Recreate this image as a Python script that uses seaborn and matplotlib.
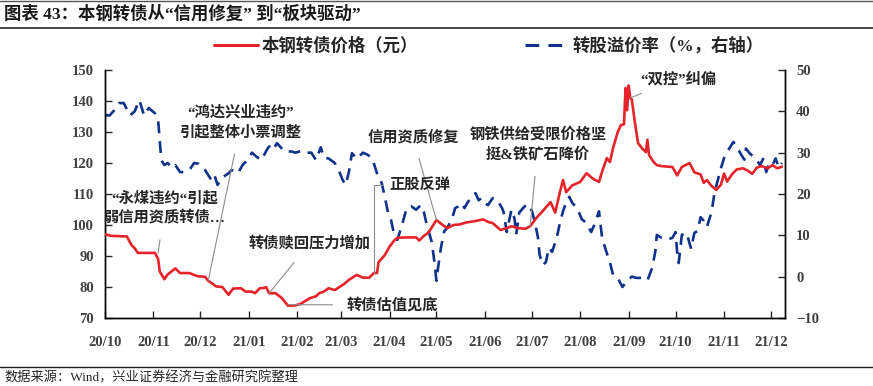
import pandas as pd
import matplotlib.pyplot as plt
import matplotlib.dates as mdates
from matplotlib.lines import Line2D
import seaborn as sns

# Data
price_dates = [
    "2020-10-01", "2020-10-05", "2020-10-15", "2020-10-18", "2020-10-20", "2020-10-22",
    "2020-11-02", "2020-11-04", "2020-11-05", "2020-11-08", "2020-11-10", "2020-11-15",
    "2020-11-18", "2020-11-24", "2020-11-29", "2020-12-04", "2020-12-06", "2020-12-09",
    "2020-12-11", "2020-12-15", "2020-12-19", "2020-12-22", "2020-12-27", "2020-12-30",
    "2021-01-03", "2021-01-05", "2021-01-08", "2021-01-11", "2021-01-12", "2021-01-14",
    "2021-01-18", "2021-01-22", "2021-01-26", "2021-01-30", "2021-02-03", "2021-02-09",
    "2021-02-13", "2021-02-15", "2021-02-18", "2021-02-21", "2021-02-25", "2021-02-28",
    "2021-03-03", "2021-03-06", "2021-03-11", "2021-03-15", "2021-03-19", "2021-03-22",
    "2021-03-24", "2021-03-25", "2021-03-29", "2021-04-01", "2021-04-04", "2021-04-06",
    "2021-04-14", "2021-04-18", "2021-04-20", "2021-04-23", "2021-04-26", "2021-05-01",
    "2021-05-05", "2021-05-08", "2021-05-12", "2021-05-16", "2021-05-20", "2021-05-25",
    "2021-05-31", "2021-06-03", "2021-06-06", "2021-06-11", "2021-06-15", "2021-06-18",
    "2021-06-22", "2021-06-27", "2021-06-30", "2021-07-04", "2021-07-08", "2021-07-13",
    "2021-07-16", "2021-07-19", "2021-07-21", "2021-07-23", "2021-07-27", "2021-08-01",
    "2021-08-05", "2021-08-09", "2021-08-13", "2021-08-15", "2021-08-18", "2021-08-20",
    "2021-08-22", "2021-08-25", "2021-08-27", "2021-08-29", "2021-08-30", "2021-08-31",
    "2021-09-01", "2021-09-02", "2021-09-03", "2021-09-05", "2021-09-07", "2021-09-10",
    "2021-09-12", "2021-09-13", "2021-09-14", "2021-09-17", "2021-09-19", "2021-09-22",
    "2021-09-29", "2021-10-02", "2021-10-05", "2021-10-10", "2021-10-13", "2021-10-17",
    "2021-10-19", "2021-10-21", "2021-10-24", "2021-10-27", "2021-10-30", "2021-11-01",
    "2021-11-03", "2021-11-06", "2021-11-09", "2021-11-13", "2021-11-16", "2021-11-19",
    "2021-11-22", "2021-11-25", "2021-11-29", "2021-12-02", "2021-12-05", "2021-12-08",
]
price_values = [
    97, 96.5, 96.3, 93.5, 92.5, 91,
    91, 89, 85, 82.5, 84, 86,
    84.5, 84.5, 83.5, 83.3, 82, 81,
    80.2, 80, 77.5, 79.5, 79.6, 78.5,
    78.5, 78, 79.6, 79.7, 80, 78,
    78, 76.5, 74, 74, 74.5, 76.4,
    77, 78, 78.5, 79.6, 79, 80,
    81, 82.3, 83.9, 83, 83, 84.5,
    84.5, 88, 90.3, 93, 95, 95.9,
    96, 96, 95, 96.5, 97.6, 101.6,
    100, 99, 100, 100.2, 100.8, 101.2,
    101.8, 101, 100.6, 98.4, 99, 99.6,
    99, 98.8, 99.6, 102.3, 104.5, 107.4,
    104, 110.6, 114.5, 110.6, 112.8, 113.9,
    116.7, 115, 113.9, 117.2, 121.6, 120.3,
    124.8, 130, 132.2, 132.5, 144.2, 137,
    145, 141, 140.5, 133, 126.4, 124.5,
    123.5, 127.5, 122.6, 120.3, 119.3, 119,
    118.7, 116, 118.7, 120, 117, 116.3,
    113.6, 114.5, 112.6, 111.3, 113, 116.6,
    114, 116.3, 117.9, 118.3, 117.6, 116.5,
    118.5, 119, 118.3, 119.3, 118.3, 118.8,
]

premium_dates = [
    "2020-10-01", "2020-10-04", "2020-10-07", "2020-10-10", "2020-10-13", "2020-10-17",
    "2020-10-20", "2020-10-23", "2020-10-26", "2020-10-29", "2020-11-02", "2020-11-04",
    "2020-11-05", "2020-11-06", "2020-11-08", "2020-11-10", "2020-11-13", "2020-11-15",
    "2020-11-18", "2020-11-21", "2020-11-24", "2020-11-27", "2020-11-30", "2020-12-04",
    "2020-12-06", "2020-12-08", "2020-12-10", "2020-12-12", "2020-12-15", "2020-12-19",
    "2020-12-21", "2020-12-25", "2020-12-28", "2020-12-31", "2021-01-03", "2021-01-06",
    "2021-01-09", "2021-01-13", "2021-01-15", "2021-01-17", "2021-01-19", "2021-01-24",
    "2021-01-28", "2021-01-31", "2021-02-04", "2021-02-07", "2021-02-10", "2021-02-13",
    "2021-02-16", "2021-02-18", "2021-02-21", "2021-02-25", "2021-02-28", "2021-03-02",
    "2021-03-04", "2021-03-06", "2021-03-08", "2021-03-11", "2021-03-15", "2021-03-18",
    "2021-03-21", "2021-03-23", "2021-03-24", "2021-03-27", "2021-03-29", "2021-03-31",
    "2021-04-02", "2021-04-04", "2021-04-06", "2021-04-09", "2021-04-12", "2021-04-15",
    "2021-04-18", "2021-04-21", "2021-04-23", "2021-04-25", "2021-04-28", "2021-04-30",
    "2021-05-01", "2021-05-02", "2021-05-04", "2021-05-06", "2021-05-08", "2021-05-11",
    "2021-05-13", "2021-05-15", "2021-05-17", "2021-05-19", "2021-05-21", "2021-05-24",
    "2021-05-26", "2021-05-28", "2021-05-30", "2021-06-01", "2021-06-03", "2021-06-06",
    "2021-06-09", "2021-06-12", "2021-06-13", "2021-06-15", "2021-06-18", "2021-06-20",
    "2021-06-21", "2021-06-23", "2021-06-25", "2021-06-28", "2021-07-01", "2021-07-03",
    "2021-07-05", "2021-07-06", "2021-07-08", "2021-07-10", "2021-07-12", "2021-07-14",
    "2021-07-17", "2021-07-19", "2021-07-21", "2021-07-23", "2021-07-25", "2021-07-27",
    "2021-07-30", "2021-08-02", "2021-08-05", "2021-08-08", "2021-08-10", "2021-08-13",
    "2021-08-15", "2021-08-18", "2021-08-20", "2021-08-22", "2021-08-25", "2021-08-28",
    "2021-08-31", "2021-09-03", "2021-09-06", "2021-09-09", "2021-09-13", "2021-09-16",
    "2021-09-18", "2021-09-19", "2021-09-22", "2021-09-26", "2021-09-29", "2021-10-01",
    "2021-10-02", "2021-10-03", "2021-10-05", "2021-10-08", "2021-10-11", "2021-10-13",
    "2021-10-15", "2021-10-17", "2021-10-19", "2021-10-21", "2021-10-24", "2021-10-26",
    "2021-10-28", "2021-10-30", "2021-11-01", "2021-11-03", "2021-11-05", "2021-11-07",
    "2021-11-09", "2021-11-12", "2021-11-14", "2021-11-15", "2021-11-17", "2021-11-19",
    "2021-11-22", "2021-11-24", "2021-11-26", "2021-11-28", "2021-11-30", "2021-12-02",
    "2021-12-04", "2021-12-06", "2021-12-08",
]
premium_values = [
    39.1, 39, 40.3, 42, 42, 39,
    40, 42.7, 39, 40.8, 39.5, 37.9,
    33, 28.2, 27, 27.5, 26.3, 27,
    25.3, 25.3, 25.8, 27.5, 27.3, 25.8,
    24.6, 23.4, 24.6, 22.2, 24, 25,
    25.8, 25, 27, 28.2, 30, 29,
    28.2, 31, 31.9, 31, 32.3, 30.2,
    30.3, 30, 30.5, 30, 30, 28.2,
    31.3, 28.8, 28.6, 27.5, 25.3, 23.4,
    22.2, 25.3, 29.9, 28.5, 30, 29.5,
    28.6, 26.2, 25, 22.7, 19.3, 15.6,
    13.7, 10.1, 8.9, 12.5, 16.6, 17,
    16.2, 17.3, 15.6, 12.3, 8.4, 2.8,
    -1, 2, 7.2, 11, 11.8, 14,
    16.6, 17, 17.8, 16.6, 18, 19.3,
    20.2, 18.5, 19, 17.8, 17.3, 19,
    18.5, 16.6, 15.6, 10.8, 16.2, 14,
    10.1, 15.5, 16.4, 17.6, 16, 13.2,
    9.4, 5.3, 2.8, 3.5, 7, 6,
    9.4, 13, 15.8, 18, 19.3, 17.8,
    16.6, 13.9, 13, 10.8, 12.5, 15.8,
    9.4, 5.7, 3.5, 0.4, -0.3, -2.5,
    -1, 0, -0.3, -0.3, -0.9, 2.1,
    6, 10.1, 9.4, 9, 9.4, 10.8,
    6, 3.3, 10.1, 10.6, 6.7, 10.6,
    11, 14.4, 13.5, 12, 15.6, 20.5,
    23.4, 26.2, 28.7, 30.2, 31.4, 32.6,
    31.5, 29.5, 28.3, 31, 30, 29.3,
    28.2, 27, 28.5, 25.3, 27.5, 27,
    28.6, 26.4, 27.5,
]

month_ticks = pd.date_range("2020-10-01", "2021-12-01", freq="MS")

# annotations: text, text position (date, price), target (date, price)
notes = [
    ("\u201c永煤违约\u201c引起\n弱信用资质转债…", ("2020-11-08", 105.5), ("2020-11-04", 91)),
    ("\u201c鸿达兴业违约\u201d\n引起整体小票调整", ("2020-12-27", 133), ("2020-12-06", 82)),
    ("转债赎回压力增加", ("2021-02-09", 94.2), ("2021-01-14", 78)),
    ("转债估值见底", ("2021-04-03", 74.2), ("2021-01-26", 74.3)),
    ("信用资质修复", ("2021-04-16", 128.4), ("2021-05-01", 101.6)),
    ("钢铁供给受限价格坚\n挺&铁矿石降价", ("2021-07-05", 126), ("2021-06-30", 99.6)),
    ("\u201c双控\u201d纠偏", ("2021-10-03", 147.2), ("2021-09-02", 141)),
]

red = "#E5232A"
blue = "#10318C"

sns.set_style("white")
plt.rcParams["font.family"] = ["Liberation Serif", "Noto Sans CJK SC"]

fig = plt.figure(figsize=(8.73, 3.86), dpi=100)
ax = fig.add_axes([105 / 873, 1 - 318 / 386, 680 / 873, 248 / 386])
ax2 = ax.twinx()

price_df = pd.DataFrame({"date": pd.to_datetime(price_dates), "value": price_values})
prem_df = pd.DataFrame({"date": pd.to_datetime(premium_dates), "value": premium_values})

sns.lineplot(data=price_df, x="date", y="value", ax=ax, color=red, linewidth=1.9, zorder=3)
sns.lineplot(data=prem_df, x="date", y="value", ax=ax2, color=blue, linewidth=1.9)
ax2.lines[0].set_dashes((4.5, 3))
ax.set_zorder(ax2.get_zorder() + 1)
ax.patch.set_visible(False)

ax.set_xlim(pd.Timestamp("2020-10-01"), pd.Timestamp("2021-12-10"))
ax.set_ylim(70, 150)
ax2.set_ylim(-10, 50)
ax.set_yticks(range(70, 151, 10))
ax2.set_yticks(range(-10, 51, 10))
ax.set_xticks(month_ticks)
ax.xaxis.set_major_formatter(mdates.DateFormatter("%y/%m"))
ax.set_xlabel("")
ax.set_ylabel("")
ax2.set_ylabel("")

tick_color = "#404040"
for a in (ax, ax2):
    for side in ("left", "right", "bottom"):
        a.spines[side].set_visible(True)
        a.spines[side].set_color("black")
        a.spines[side].set_linewidth(1.0)
    a.spines["top"].set_visible(False)
ax.tick_params(axis="x", direction="in", length=5, width=1, pad=13, labelsize=10.5,
               labelcolor=tick_color, bottom=True)
ax.tick_params(axis="y", direction="in", length=5, width=1, pad=8, labelsize=10.5,
               labelcolor=tick_color, left=True)
ax2.tick_params(axis="y", direction="in", length=5, width=1, pad=8, labelsize=10.5,
                labelcolor=tick_color, right=True)
for lab in ax.get_xticklabels() + ax.get_yticklabels() + ax2.get_yticklabels():
    lab.set_fontweight("bold")

# annotations
for text, (tx, ty), (px, py) in notes:
    ax.annotate(text, xy=(pd.Timestamp(px), py), xytext=(pd.Timestamp(tx), ty),
                ha="center", va="center", fontsize=11, color="#262626",
                linespacing=1.45, fontweight="bold",
                arrowprops=dict(arrowstyle="-", color="#8C8C8C", lw=0.8,
                                shrinkA=8, shrinkB=0))
ax.annotate("正股反弹", xy=(pd.Timestamp("2021-03-22"), 84.5),
            xytext=(pd.Timestamp("2021-04-01"), 113), ha="left", va="center",
            fontsize=11, color="#262626", fontweight="bold",
            arrowprops=dict(arrowstyle="-", color="#8C8C8C", lw=0.8, shrinkA=2,
                            shrinkB=0, connectionstyle="angle,angleA=0,angleB=90,rad=0"))

# legend
handles = [Line2D([], [], color=red, lw=2.2),
           Line2D([], [], color=blue, lw=2.2, dashes=(4.5, 3))]
fig.legend(handles, ["本钢转债价格（元）", "转股溢价率（%，右轴）"], loc="center",
           bbox_to_anchor=(0.560, 1 - 46 / 386), ncol=2, frameon=False,
           handlelength=2.5, columnspacing=6.2, handletextpad=0.2,
           prop={"size": 12.5, "weight": "bold"})

# title, rules, source
fig.text(4 / 873, 1 - 14 / 386, "图表 43：本钢转债从\u201c信用修复\u201d 到\u201c板块驱动\u201d",
         ha="left", va="center", fontsize=12.5, fontweight="bold", color="#1a1a1a")
fig.add_artist(Line2D([0, 1], [1 - 28 / 386, 1 - 28 / 386], color="#222222", lw=1.2))
fig.add_artist(Line2D([0, 1], [0.998, 0.998], color="#555555", lw=1.0))
fig.add_artist(Line2D([0, 1], [1 - 367 / 386, 1 - 367 / 386], color="#222222", lw=1.0))
fig.text(4 / 873, 1 - 378 / 386, "数据来源：Wind，兴业证券经济与金融研究院整理",
         ha="left", va="center", fontsize=9.5, color="#262626")

fig.savefig("out.png", dpi=100)
